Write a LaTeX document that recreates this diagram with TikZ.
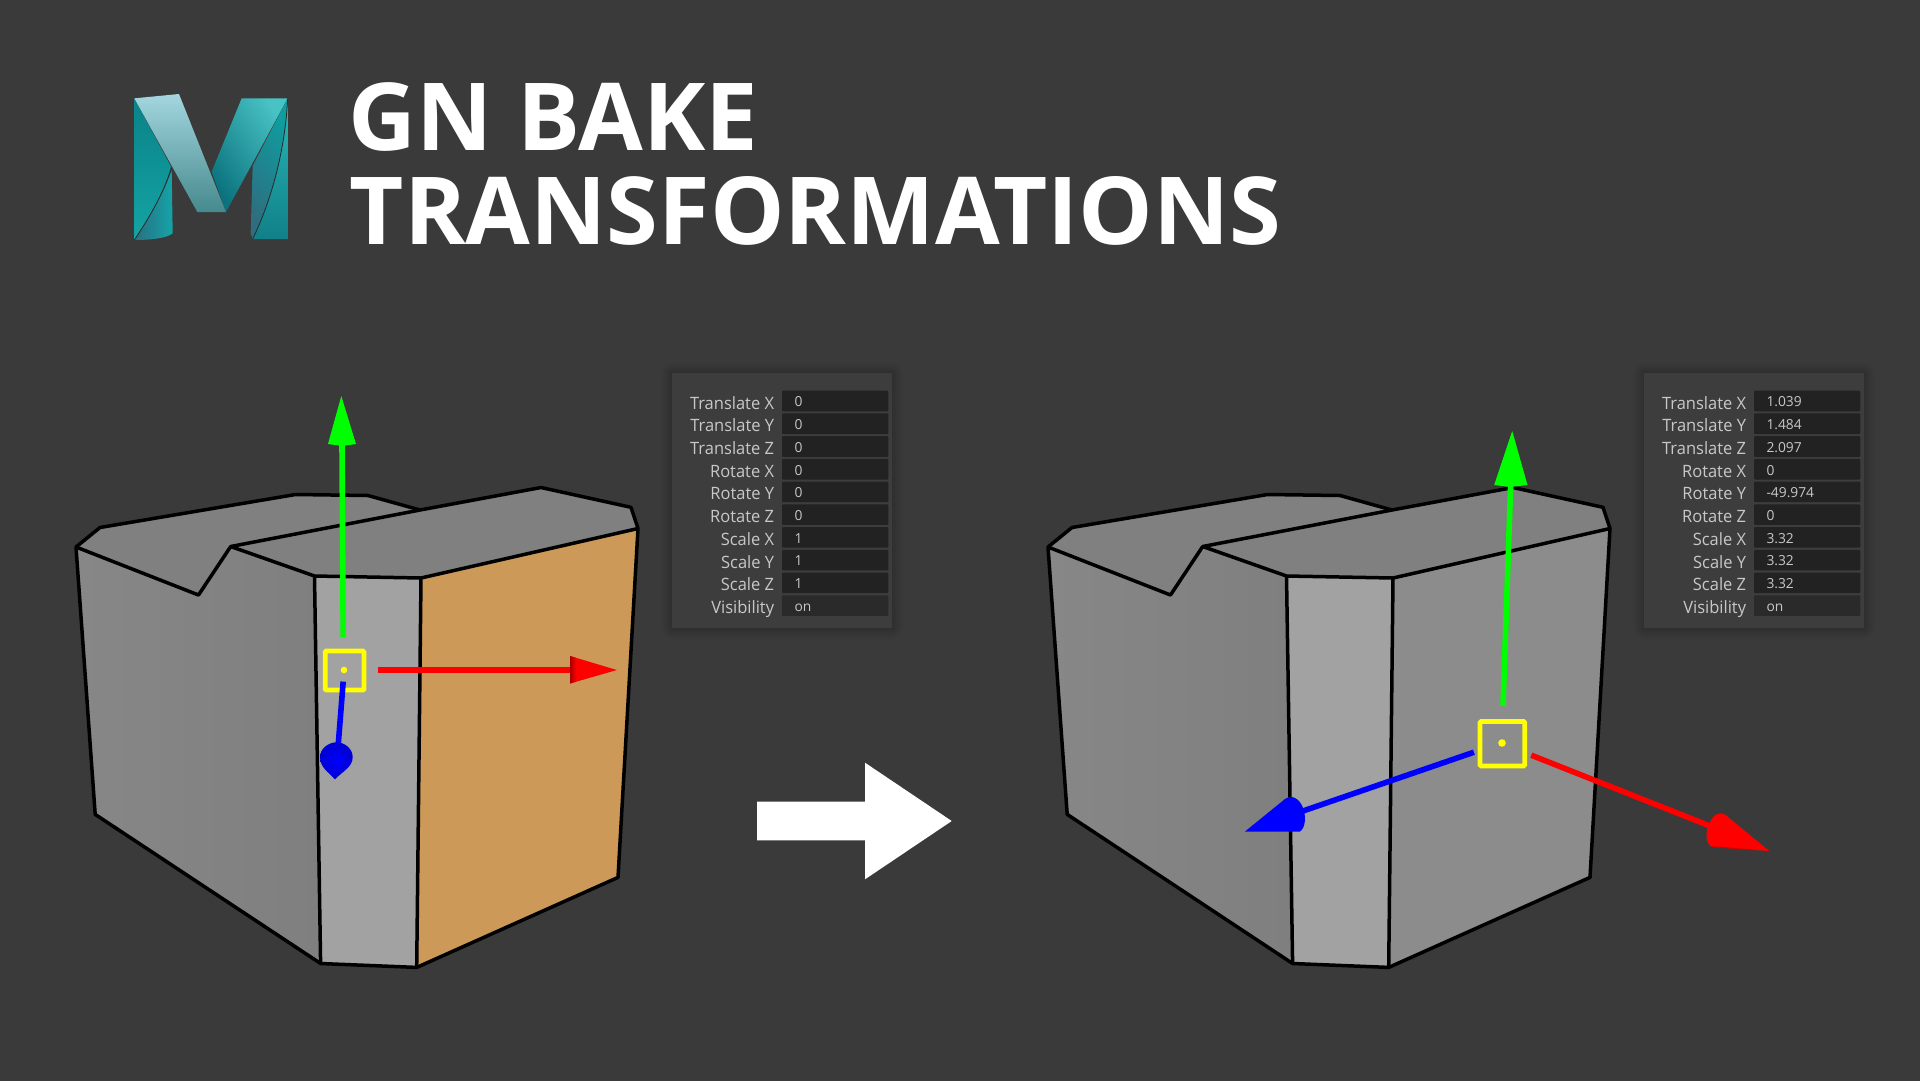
\documentclass[tikz,border=0pt]{standalone}
\usepackage{fontspec}
\setmainfont{Open Sans}
\definecolor{bg}{HTML}{3A3A3A}
\definecolor{panelc}{HTML}{3D3D3D}
\definecolor{fieldc}{HTML}{222222}
\definecolor{onc}{HTML}{2A2A2A}
\definecolor{labc}{HTML}{C8C8C8}
\definecolor{valc}{HTML}{C8C8C8}
\definecolor{topc}{HTML}{808080}
\definecolor{midc}{HTML}{A2A2A2}
\definecolor{orangec}{HTML}{CC9959}
\definecolor{greyr}{HTML}{8C8C8C}
\definecolor{greyl}{HTML}{878787}
\definecolor{greyd}{HTML}{7F7F7F}
\definecolor{gizg}{HTML}{00FF00}
\definecolor{gizr}{HTML}{FF0000}
\definecolor{gizb}{HTML}{0000FF}
\definecolor{gizy}{HTML}{FFFF00}
\definecolor{darkr}{HTML}{A80000}
\definecolor{darkb}{HTML}{0000D0}
\definecolor{lt1}{HTML}{0A8288}
\definecolor{lt2}{HTML}{14A4A4}
\definecolor{ll1}{HTML}{2A6F80}
\definecolor{ll2}{HTML}{14A4A8}
\definecolor{rb1}{HTML}{A4D6DE}
\definecolor{rb2}{HTML}{458A8E}
\definecolor{rr1}{HTML}{0B6472}
\definecolor{rr2}{HTML}{0AACAC}
\definecolor{rr3}{HTML}{48C2C4}
\definecolor{rl1}{HTML}{2E6E80}
\definecolor{rl2}{HTML}{0E9EA0}
\definecolor{ro1}{HTML}{35C4C4}
\definecolor{ro2}{HTML}{118088}
\tikzset{
  x=1pt,y=-1pt,
  titletext/.style={anchor=base west,inner sep=0,text=white,font=\fontsize{93.8}{93.8}\selectfont\bfseries},
  lab/.style={anchor=base east,inner sep=0,text=labc,font=\fontsize{17}{17}\selectfont,xscale=.97},
  val/.style={anchor=base west,inner sep=0,text=valc,font=\fontsize{13.8}{14}\selectfont},
  edge/.style={draw=black,line width=3.5pt,line join=round},
  shaft/.style={line width=5.6pt},
  yel/.style={draw=gizy,line width=4.6pt,rounded corners=1pt},
}
% cube: #1 = right face colour
\newcommand{\mycube}[1]{%
  \fill[topc] (76,547)--(100,527.5)--(295.5,494.5)--(368,495.5)--(420,510)--(541,487.5)--(631,507.3)--(638,528.5)--(421,578)--(314.5,576)--(230.7,546.5)--(198.5,595)--cycle;
  \shade[left color=greyl,right color=greyd] (76,547)--(198.5,595)--(230.7,546.5)--(314.5,576)--(320.6,963.5)--(95.2,814.4)--cycle;
  \fill[midc] (314.5,576)--(421,578)--(416.7,967.4)--(320.6,963.5)--cycle;
  \fill[#1] (421,578)--(638,528.5)--(618,877.4)--(416.7,967.4)--cycle;
  \draw[edge] (76,547)--(100,527.5)--(295.5,494.5)--(368,495.5)--(420,510)--(541,487.5)--(631,507.3)--(638,528.5)--(618,877.4)--(416.7,967.4)--(320.6,963.5)--(95.2,814.4)--cycle;
  \draw[edge] (76,547)--(198.5,595)--(230.7,546.5)--(314.5,576)--(421,578)--(638,528.5);
  \draw[edge] (230.7,546.5)--(420,510);
  \draw[edge] (314.5,576)--(320.6,963.5);
  \draw[edge] (421,578)--(416.7,967.4);
}
% attribute panel
\newcommand{\mypanel}[3]{%
  \begin{scope}[xshift=#1pt]
    \foreach \e/\o in {11/.015,9/.02,7/.025,5/.03,3/.035,1/.04}
      \fill[black,opacity=\o,rounded corners=\e pt] (672-\e,373-\e) rectangle (892+\e,628+\e);
    \fill[panelc] (672,373) rectangle (892,628);
    \foreach \l/\v [count=\i from 0] in {#3}{
      \pgfmathsetmacro{\yy}{401+22.73*\i}
      \pgfmathsetmacro{\ya}{\yy-10.3}
      \pgfmathsetmacro{\yb}{\yy+10.3}
      \pgfmathsetmacro{\yl}{\yy+8}
      \pgfmathsetmacro{\yv}{\yy+5.8}
      \ifnum\i=9 \fill[onc,rounded corners=1pt] (782,\ya) rectangle (888.3,\yb);
      \else \fill[fieldc,rounded corners=1pt] (782,\ya) rectangle (888.3,\yb);\fi
      \node[lab] (#2l\i) at (774.3,\yl) {\l};
      \node[val] (#2v\i) at (794.3,\yv) {\v};
    }
  \end{scope}
}
\begin{document}
\begin{tikzpicture}
\useasboundingbox (0,0) rectangle (1920,1080);
\fill[bg] (-6,-6) rectangle (1926,1086);

% logo
\begin{scope}[shift={(100,60)},x=1/3*1pt,y=-1/3*1pt]
  \shade[top color=lt1,bottom color=lt2] (103,115)--(213,320) .. controls (190,400) and (150,470) .. (103,540)--cycle;
  \shade[left color=ll1,right color=ll2] (103,540) .. controls (150,470) and (190,400) .. (215,325)--(218,520) .. controls (200,535) and (150,540) .. (103,540)--cycle;
  \draw[bg!70!black,line width=.8pt] (103,540) .. controls (150,470) and (190,400) .. (215,325);
  \shade[left color=rr1!80!rr2,middle color=rr2,right color=rr3,shading angle=125] (425,115)--(563,115)--(378,456)--(335,335)--cycle;
  \shade[left color=rl1,right color=rl2,shading angle=130] (563,115)--(458,318)--(452,520)--(458,537) .. controls (510,430) and (555,280) .. (563,115)--cycle;
  \shade[top color=ro1!70!rl2,middle color=ro1,bottom color=ro2] (563,115)--(563,537)--(458,537) .. controls (510,430) and (555,280) .. (563,115)--cycle;
  \draw[bg!70!black,line width=.8pt] (458,537) .. controls (510,430) and (555,280) .. (563,115);
  \shade[top color=rb1,bottom color=rb2] (103,115)--(237,102)--(378,456)--(292,456)--cycle;
\end{scope}

% title
\node[titletext] (t1) at (348.5,150.7) {GN BAKE};
\node[titletext] (t2) at (349.5,244) {TRANSFORMATIONS};

% left cube
\mycube{orangec}
% left gizmo
\draw[gizg,shaft] (343.2,637.2)--(342,445);
\fill[gizg] (341.3,396)--(356,444)--(342,446)--(328,444)--cycle;
\draw[yel] (325.2,651) rectangle (364,690);
\fill[gizy] (344,670) circle (3.3);
\draw[gizr,shaft] (378.4,670)--(572,670);
\fill[gizr] (570,656)--(616.8,670)--(570,683.5)--cycle;
\shade[left color=darkr,right color=gizr] (570,656)--(576,657.8)--(576,681.8)--(570,683.5)--cycle;
\draw[gizb,shaft] (343.2,681.6)--(338.2,745);
\shade[inner color=gizb,outer color=darkb] (320,757) .. controls (320,749) and (328,742.3) .. (336.5,742.3) .. controls (345,742.3) and (352.7,749) .. (352.7,757) .. controls (352.7,767) and (343,771) .. (335,779.3) .. controls (328,772) and (320,767) .. (320,757)--cycle;

% panel 1
\mypanel{0}{a}{Translate X/0,Translate Y/0,Translate Z/0,Rotate X/0,Rotate Y/0,Rotate Z/0,Scale X/1,Scale Y/1,Scale Z/1,Visibility/on}

% arrow
\fill[white] (757,801.7)--(865,801.7)--(865,762.7)--(951.7,821)--(865,879.3)--(865,840.3)--(757,840.3)--cycle;

% right cube
\begin{scope}[xshift=972pt]
  \mycube{greyr}
\end{scope}
\draw[gizg,shaft] (1503,706)--(1510.7,484);
\fill[gizg] (1512.2,431)--(1527.5,485)--(1510,487)--(1494.2,485)--cycle;
\draw[yel] (1480,721.5) rectangle (1524.7,766);
\fill[gizy] (1502,743) circle (3.8);
\draw[gizr,shaft] (1531.3,755.2)--(1710,826);
\fill[gizr] (1769.3,851)--(1728,817) .. controls (1722,811) and (1715,812) .. (1710,822) .. controls (1705,830) and (1705,844) .. (1712,847)--cycle;
\draw[darkr!50!gizr,line width=1pt,line cap=round] (1712,846.6)--(1755,850);
\draw[gizb,shaft] (1473.9,752.2)--(1300,812);
\fill[gizb] (1245,831.5)--(1285,799) .. controls (1292,794) and (1300,799) .. (1303,808) .. controls (1306,815) and (1306,828) .. (1299.8,831.5)--cycle;

% panel 2
\mypanel{972}{b}{Translate X/1.039,Translate Y/1.484,Translate Z/2.097,Rotate X/0,Rotate Y/-49.974,Rotate Z/0,Scale X/3.32,Scale Y/3.32,Scale Z/3.32,Visibility/on}
\end{tikzpicture}
\end{document}
